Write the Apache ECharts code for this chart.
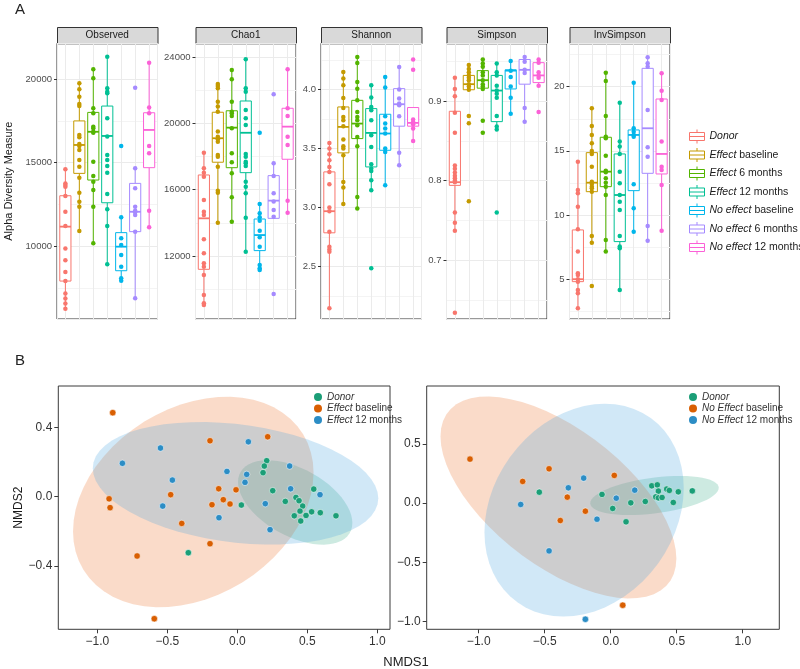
<!DOCTYPE html>
<html>
<head>
<meta charset="utf-8">
<title>Alpha diversity and NMDS</title>
<script src="https://cdn.jsdelivr.net/npm/echarts/dist/echarts.min.js"></script>
<style>
  html, body { margin: 0; padding: 0; background: #fff; }
  #chart { width: 800px; height: 669px; }
</style>
</head>
<body>
<div id="chart"></div>
<script>
// ---- panel A data ----
var groups = ['Donor', 'Effect baseline', 'Effect 6 months', 'Effect 12 months',
  'No effect baseline', 'No effect 6 months', 'No effect 12 months'];
var facetNames = ['Observed', 'Chao1', 'Shannon', 'Simpson', 'InvSimpson'];

// points, one list per group
var observedPts = [
  [14600, 13750, 13650, 13550, 13000, 12050, 11200, 9850, 9150, 8450, 7900, 7150, 6850, 6550, 6250],
  [19740, 19380, 18940, 18500, 18380, 16650, 16510, 16110, 15990, 15750, 15150, 14750, 14090, 13190, 12650, 12350, 10900],
  [20580, 20040, 18250, 17950, 17140, 17050, 16840, 16780, 15050, 14190, 13850, 13350, 12350, 10160],
  [21340, 19440, 19240, 19140, 17650, 16550, 15450, 15150, 14790, 14390, 13110, 12200, 11200, 8900],
  [15990, 11720, 10460, 10060, 9460, 8760, 8070, 7920],
  [19480, 14650, 13460, 12350, 12110, 12020, 11860, 10860, 6870],
  [20980, 18300, 17950, 15990, 15550, 12110, 11120]
];
// [lower whisker, Q1, median, Q3, upper whisker]
var observedBox = [
  [6250, 7900, 11160, 13010, 14600],
  [10900, 14350, 16050, 17490, 19740],
  [10160, 13950, 16840, 18000, 20580],
  [8900, 12590, 16590, 18380, 21340],
  [7920, 8520, 9960, 10800, 11720],
  [6870, 10860, 12050, 13750, 14650],
  [11120, 14690, 16950, 17980, 20980]
];

var chao1Pts = [
  [18240, 17290, 17030, 16790, 15380, 14670, 14470, 13000, 12160, 11550, 11350, 10850, 9640, 9140, 9030],
  [22390, 22270, 22130, 21320, 21020, 20710, 19510, 19200, 19050, 18900, 18100, 17990, 17390, 15940, 15820, 14010],
  [23230, 22670, 21320, 20710, 20620, 20450, 19710, 18200, 17660, 16990, 15540, 14070],
  [23880, 22130, 21920, 20820, 20320, 19910, 18160, 17990, 17690, 17600, 17430, 16480, 16180, 15780, 14310, 12250],
  [19440, 15140, 14570, 14330, 14130, 13520, 13120, 12560, 11450, 11250, 11150],
  [21770, 17600, 16830, 15780, 15280, 14770, 14370, 9700],
  [23280, 20920, 20450, 19200, 18700, 15340, 14610]
];
var chao1Box = [
  [9030, 11190, 14270, 16890, 18240],
  [14010, 17660, 19110, 20680, 22390],
  [14070, 17330, 19750, 20770, 23230],
  [12250, 17030, 19440, 21360, 23880],
  [11150, 12320, 13260, 14230, 15140],
  [14270, 14270, 15340, 16850, 17600],
  [14610, 17840, 19810, 20920, 23280]
];

var shannonPts = [
  [3.548, 3.501, 3.453, 3.402, 3.345, 3.303, 3.199, 3.002, 2.970, 2.795, 2.668, 2.646, 2.626, 2.147],
  [4.149, 4.093, 4.036, 3.929, 3.844, 3.768, 3.740, 3.690, 3.577, 3.520, 3.501, 3.444, 3.218, 3.171, 3.030],
  [4.276, 4.225, 4.064, 4.008, 3.909, 3.810, 3.768, 3.740, 3.698, 3.599, 3.520, 3.091, 2.993],
  [4.036, 3.932, 3.853, 3.825, 3.740, 3.613, 3.514, 3.368, 3.332, 3.311, 3.233, 3.148, 2.486],
  [4.107, 4.017, 3.774, 3.712, 3.670, 3.628, 3.501, 3.472, 3.190],
  [4.191, 4.000, 3.924, 3.882, 3.867, 3.774, 3.464, 3.360],
  [4.254, 4.169, 3.746, 3.726, 3.706, 3.670, 3.565]
];
var shannonBox = [
  [2.147, 2.787, 2.970, 3.303, 3.548],
  [3.030, 3.464, 3.684, 3.853, 4.149],
  [2.993, 3.585, 3.712, 3.909, 4.276],
  [3.148, 3.345, 3.633, 3.839, 4.036],
  [3.190, 3.486, 3.628, 3.791, 4.107],
  [3.360, 3.690, 3.876, 4.008, 4.191],
  [3.565, 3.690, 3.718, 3.848, 3.848]
];

var simpsonPts = [
  [0.929, 0.915, 0.906, 0.885, 0.860, 0.819, 0.815, 0.810, 0.806, 0.803, 0.800, 0.798, 0.760, 0.747, 0.737, 0.634],
  [0.945, 0.940, 0.936, 0.932, 0.929, 0.926, 0.921, 0.918, 0.914, 0.881, 0.872, 0.774],
  [0.952, 0.947, 0.943, 0.936, 0.932, 0.926, 0.921, 0.918, 0.915, 0.875, 0.860],
  [0.947, 0.936, 0.932, 0.919, 0.913, 0.909, 0.904, 0.881, 0.868, 0.864, 0.760],
  [0.950, 0.938, 0.930, 0.918, 0.904, 0.884],
  [0.955, 0.949, 0.939, 0.935, 0.891, 0.874],
  [0.952, 0.948, 0.936, 0.932, 0.929, 0.919, 0.886]
];
var simpsonBox = [
  [0.737, 0.794, 0.798, 0.887, 0.929],
  [0.912, 0.914, 0.921, 0.932, 0.945],
  [0.915, 0.916, 0.926, 0.938, 0.952],
  [0.864, 0.874, 0.913, 0.932, 0.947],
  [0.884, 0.915, 0.938, 0.939, 0.950],
  [0.874, 0.921, 0.939, 0.952, 0.955],
  [0.919, 0.923, 0.932, 0.948, 0.952]
];

var invSimpsonPts = [
  [14.16, 11.95, 11.70, 10.65, 8.89, 7.15, 5.46, 5.33, 5.00, 4.81, 4.16, 3.91, 2.74],
  [18.32, 16.94, 16.24, 15.59, 14.99, 14.76, 13.77, 12.60, 12.42, 12.21, 12.08, 11.82, 8.37, 7.85, 4.47],
  [21.09, 20.44, 17.72, 16.10, 15.98, 14.62, 13.46, 13.33, 12.86, 12.52, 12.21, 11.56, 8.06, 7.15],
  [18.75, 15.72, 15.33, 14.76, 13.38, 12.47, 11.56, 11.04, 10.39, 8.37, 7.54, 7.41, 4.16],
  [20.31, 16.76, 16.49, 16.24, 16.10, 12.40, 10.53, 8.70],
  [22.29, 21.82, 21.56, 18.18, 15.28, 14.55, 9.15, 8.00],
  [21.04, 19.69, 18.96, 15.72, 13.77, 13.51, 12.34, 8.78]
];
var invSimpsonBox = [
  [2.74, 4.81, 5.00, 8.84, 14.16],
  [7.85, 11.82, 12.52, 14.86, 18.32],
  [7.15, 12.21, 13.38, 16.06, 21.09],
  [4.16, 7.93, 11.56, 14.76, 18.75],
  [8.70, 11.90, 16.24, 16.63, 20.31],
  [8.00, 13.25, 16.76, 21.43, 22.29],
  [8.78, 13.20, 14.76, 19.04, 21.04]
];

// y axis extents, tick steps and label decimals of each facet
var facetMin = [5629, 8188, 2.057, 0.6263, 1.90];
var facetMax = [22138, 24846, 4.392, 0.9723, 23.38];
var facetStep = [5000, 4000, 0.5, 0.1, 5];
var facetDecimals = [0, 0, 1, 1, 0];

// ---- panel B data (NMDS1, NMDS2) ----
var leftDonor = [[0.210, 0.208], [0.193, 0.177], [0.184, 0.139], [0.253, 0.035], [0.029, -0.048],
  [0.343, -0.027], [0.419, -0.004], [0.441, -0.023], [0.467, -0.054], [0.546, 0.044],
  [0.593, -0.092], [0.531, -0.087], [0.491, -0.108], [0.448, -0.083], [0.407, -0.110],
  [0.453, -0.140], [0.705, -0.110], [-0.350, -0.323]];
var leftEffectBaseline = [[-0.890, 0.485], [-0.195, 0.323], [0.217, 0.346], [-0.916, -0.012],
  [-0.909, -0.063], [-0.476, 0.012], [-0.133, 0.046], [-0.009, 0.040], [-0.100, -0.017],
  [-0.181, -0.046], [-0.052, -0.042], [-0.397, -0.154], [-0.195, -0.271], [-0.716, -0.342],
  [-0.593, -0.704]];
var leftEffect12 = [[-0.549, 0.281], [0.079, 0.317], [-0.821, 0.193], [-0.074, 0.146],
  [0.067, 0.129], [0.374, 0.177], [-0.464, 0.096], [0.055, 0.083], [0.381, 0.046],
  [0.591, 0.012], [-0.533, -0.054], [0.200, -0.040], [-0.131, -0.121], [0.234, -0.190]];

var rightDonor = [[-0.541, 0.093], [-0.066, 0.074], [0.015, -0.045], [0.152, 0.003], [0.262, 0.014],
  [0.116, -0.158], [0.311, 0.147], [0.353, 0.155], [0.361, 0.102], [0.341, 0.053],
  [0.361, 0.045], [0.389, 0.048], [0.424, 0.119], [0.444, 0.108], [0.512, 0.096],
  [0.474, 0.006], [0.618, 0.104]];
var rightNoEffectBaseline = [[-1.066, 0.373], [-0.467, 0.291], [-0.667, 0.184], [0.027, 0.235],
  [-0.329, 0.051], [-0.192, -0.068], [-0.382, -0.147], [0.091, -0.864]];
var rightNoEffect12 = [[-0.682, -0.011], [-0.205, 0.212], [-0.321, 0.130], [0.042, 0.042],
  [0.182, 0.110], [-0.104, -0.136], [-0.467, -0.404], [-0.192, -0.983]];

// ---- styles ----
var groupColors = ['#F8766D', '#C49A00', '#53B400', '#00C094', '#00B6EB', '#A58AFF', '#FB61D7'];
var bGreen = '#1B9E77', bOrange = '#D95F02', bBlue = '#2C8DC5';
var bFill = ['rgba(27,158,119,0.22)', 'rgba(235,110,40,0.25)', 'rgba(70,165,225,0.25)'];

var facetPts = [observedPts, chao1Pts, shannonPts, simpsonPts, invSimpsonPts];
var facetBox = [observedBox, chao1Box, shannonBox, simpsonBox, invSimpsonBox];
var facetLeft = [57, 195.5, 321, 446.5, 569.5];
var facetWidth = 100.5;
var facetTop = 43.3;
var facetHeight = 275.7;

// robust (t) ellipse as in ggplot2::stat_ellipse (MASS::cov.trob, level 0.95)
function trobEllipse(pts, level) {
  var n = pts.length, nu = 5, p = 2;
  var loc = [0, 0];
  pts.forEach(function (q) { loc[0] += q[0] / n; loc[1] += q[1] / n; });
  var w = pts.map(function () { return 1; });
  var X;
  for (var iter = 0; iter < 25; iter++) {
    var w0 = w.slice();
    X = pts.map(function (q) { return [q[0] - loc[0], q[1] - loc[1]]; });
    var sw = 0, sxx = 0, sxy = 0, syy = 0;
    X.forEach(function (d, i) {
      sw += w[i]; sxx += w[i] * d[0] * d[0]; sxy += w[i] * d[0] * d[1]; syy += w[i] * d[1] * d[1];
    });
    sxx /= sw; sxy /= sw; syy /= sw;
    var det = sxx * syy - sxy * sxy;
    w = X.map(function (d) {
      var Q = (syy * d[0] * d[0] - 2 * sxy * d[0] * d[1] + sxx * d[1] * d[1]) / det;
      return (nu + p) / (nu + Q);
    });
    var tw = 0, lx = 0, ly = 0;
    pts.forEach(function (q, i) { tw += w[i]; lx += w[i] * q[0]; ly += w[i] * q[1]; });
    loc = [lx / tw, ly / tw];
    var done = w.every(function (v, i) { return Math.abs(v - w0[i]) < 0.01; });
    if (done) break;
  }
  var a = 0, b = 0, c = 0;
  X.forEach(function (d, i) { a += w[i] * d[0] * d[0]; b += w[i] * d[0] * d[1]; c += w[i] * d[1] * d[1]; });
  a /= n; b /= n; c /= n;
  var r11 = Math.sqrt(a), r12 = b / r11, r22 = Math.sqrt(c - r12 * r12);
  var dfd = n - 1;
  var fq = dfd / 2 * (Math.pow(1 - level, -2 / dfd) - 1); // qf(level, 2, dfd)
  var radius = Math.sqrt(2 * fq);
  var out = [];
  for (var k = 0; k <= 60; k++) {
    var t = k * 2 * Math.PI / 60;
    var ct = Math.cos(t), st = Math.sin(t);
    out.push([loc[0] + radius * ct * r11, loc[1] + radius * (ct * r12 + st * r22)]);
  }
  return out;
}

function legendFmt(name) {
  var m = name.match(/^(Donor|Effect|No effect|No Effect)(.*)$/);
  if (!m) return name;
  return '{i|' + m[1] + '}' + m[2];
}

function minusFmt(v) { return v.toFixed(1).replace('-', '\u2212'); }

var chart = echarts.init(document.getElementById('chart'));

var grids = [], xAxes = [], yAxes = [], series = [], graphics = [];

facetNames.forEach(function (fname, f) {
  grids.push({
    left: facetLeft[f], top: facetTop, width: facetWidth, height: facetHeight,
    show: true, backgroundColor: '#fff', borderColor: '#333', borderWidth: 1,
    outerBoundsMode: 'none'
  });
  xAxes.push({
    type: 'value', gridIndex: f, min: 0.4, max: 7.6, minInterval: 1, maxInterval: 1,
    axisLine: { show: false, onZero: false }, axisTick: { show: false }, axisLabel: { show: false },
    splitLine: { show: true, lineStyle: { color: '#EBEBEB', width: 1 } }
  });
  yAxes.push({
    type: 'value', gridIndex: f, min: facetMin[f], max: facetMax[f],
    minInterval: facetStep[f], maxInterval: facetStep[f],
    name: f === 0 ? 'Alpha Diversity Measure' : '',
    nameLocation: 'middle', nameGap: 43,
    nameTextStyle: { fontSize: 11, color: '#1a1a1a', fontFamily: 'Liberation Sans' },
    axisLine: { show: false, onZero: false },
    axisTick: { show: true, length: 3, lineStyle: { color: '#333' } },
    axisLabel: { fontSize: 9.5, color: '#4D4D4D', margin: 5, showMinLabel: false, showMaxLabel: false,
      fontFamily: 'Liberation Sans',
      formatter: function (v) { return v.toFixed(facetDecimals[f]); } },
    splitLine: { show: true, lineStyle: { color: '#EBEBEB', width: 1 } },
    minorTick: { show: false, splitNumber: 2 },
    minorSplitLine: { show: true, lineStyle: { color: '#F4F4F4', width: 1 } }
  });

  // box + whiskers
  series.push({
    type: 'custom', name: fname + ' box', xAxisIndex: f, yAxisIndex: f, z: 2, silent: true,
    data: facetBox[f].map(function (bx, g) { return [g + 1].concat(bx); }),
    encode: { x: 0, y: [1, 2, 3, 4, 5] },
    renderItem: function (params, api) {
      var g = api.value(0);
      var col = groupColors[g - 1];
      var lo = api.coord([g, api.value(1)]);
      var q1 = api.coord([g, api.value(2)]);
      var md = api.coord([g, api.value(3)]);
      var q3 = api.coord([g, api.value(4)]);
      var hi = api.coord([g, api.value(5)]);
      var half = api.size([0.8, 0])[0] / 2;
      var ls = { stroke: col, lineWidth: 1 };
      return {
        type: 'group',
        children: [
          { type: 'line', shape: { x1: lo[0], y1: lo[1], x2: q1[0], y2: q1[1] }, style: ls },
          { type: 'line', shape: { x1: q3[0], y1: q3[1], x2: hi[0], y2: hi[1] }, style: ls },
          { type: 'rect', shape: { x: q3[0] - half, y: q3[1], width: half * 2, height: q1[1] - q3[1] },
            style: { fill: '#fff', stroke: col, lineWidth: 1 } },
          { type: 'line', shape: { x1: md[0] - half, y1: md[1], x2: md[0] + half, y2: md[1] },
            style: { stroke: col, lineWidth: 1.8 } }
        ]
      };
    }
  });

  // points
  facetPts[f].forEach(function (vals, g) {
    series.push({
      type: 'scatter', name: groups[g], xAxisIndex: f, yAxisIndex: f, z: 3,
      symbolSize: 4.5, itemStyle: { color: groupColors[g], opacity: 1 },
      data: vals.map(function (v) { return [g + 1, v]; })
    });
  });

  // facet strip
  graphics.push({
    type: 'rect', left: facetLeft[f], top: 27, silent: true,
    shape: { width: facetWidth, height: 16.3 },
    style: { fill: '#D9D9D9', stroke: '#333', lineWidth: 1 }
  });
  graphics.push({
    type: 'text', x: facetLeft[f] + facetWidth / 2, y: 35.5, silent: true,
    style: { text: fname, align: 'center', verticalAlign: 'middle', fontSize: 10,
      fill: '#1a1a1a', fontFamily: 'Liberation Sans' }
  });
});

// ---- panel B ----
var bPanels = [
  { left: 58.3, width: 331.7, xmin: -1.279, xmax: 1.091, ymin: -0.765, ymax: 0.639, ystep: 0.4,
    sets: [leftDonor, leftEffectBaseline, leftEffect12],
    names: ['Donor', 'Effect baseline', 'Effect 12 months'], legendLeft: 309 },
  { left: 426.7, width: 352.6, xmin: -1.394, xmax: 1.277, ymin: -1.068, ymax: 0.992, ystep: 0.5,
    sets: [rightDonor, rightNoEffectBaseline, rightNoEffect12],
    names: ['Donor', 'No Effect baseline', 'No Effect 12 months'], legendLeft: 684 }
];
var bColors = [bGreen, bOrange, bBlue];
var legends = [{
  data: groups.map(function (nm, g) {
    return { name: nm, itemStyle: { color: '#fff', borderColor: groupColors[g], borderWidth: 1 } };
  }),
  orient: 'vertical', left: 689, top: 129, padding: 0,
  itemWidth: 15, itemHeight: 14, itemGap: 3.5,
  icon: 'path://M0,3L15,3L15,11L0,11Z M7.5,0L7.5,3 M7.5,11L7.5,14 M0,7L15,7',
  textStyle: { fontSize: 10.5, lineHeight: 13, color: '#1a1a1a', fontFamily: 'Liberation Sans',
    rich: { i: { fontStyle: 'italic', fontSize: 10.5, lineHeight: 13, color: '#1a1a1a',
      fontFamily: 'Liberation Sans' } } },
  formatter: legendFmt
}];

bPanels.forEach(function (bp, k) {
  var gi = 5 + k;
  grids.push({
    left: bp.left, top: 386, width: bp.width, height: 243.3,
    show: true, backgroundColor: '#fff', borderColor: '#3a3a3a', borderWidth: 1,
    outerBoundsMode: 'none'
  });
  xAxes.push({
    type: 'value', gridIndex: gi, min: bp.xmin, max: bp.xmax, minInterval: 0.5, maxInterval: 0.5,
    axisLine: { show: false, onZero: false },
    axisTick: { show: true, length: 4, lineStyle: { color: '#3a3a3a' } },
    axisLabel: { fontSize: 12, color: '#333', margin: 6, showMinLabel: false, showMaxLabel: false,
      fontFamily: 'Liberation Sans', formatter: minusFmt },
    splitLine: { show: false }
  });
  yAxes.push({
    type: 'value', gridIndex: gi, min: bp.ymin, max: bp.ymax,
    minInterval: bp.ystep, maxInterval: bp.ystep,
    name: k === 0 ? 'NMDS2' : '', nameLocation: 'middle', nameGap: 24,
    nameTextStyle: { fontSize: 12, color: '#1a1a1a', fontFamily: 'Liberation Sans' },
    axisLine: { show: false, onZero: false },
    axisTick: { show: true, length: 4, lineStyle: { color: '#3a3a3a' } },
    axisLabel: { fontSize: 12, color: '#333', margin: 6, showMinLabel: false, showMaxLabel: false,
      fontFamily: 'Liberation Sans', formatter: minusFmt },
    splitLine: { show: false }
  });

  // ellipses first, then points
  bp.sets.forEach(function (pts, j) {
    var ell = trobEllipse(pts, 0.95);
    series.push({
      type: 'custom', name: bp.names[j] + ' ellipse', xAxisIndex: gi, yAxisIndex: gi, z: 1, silent: true,
      data: [[0, 0]],
      renderItem: function (params, api) {
        return {
          type: 'polygon',
          shape: { points: ell.map(function (p) { return api.coord(p); }) },
          style: { fill: bFill[j], stroke: 'none' }
        };
      }
    });
  });
  bp.sets.forEach(function (pts, j) {
    series.push({
      type: 'scatter', name: bp.names[j], xAxisIndex: gi, yAxisIndex: gi, z: 3,
      symbolSize: 6.5,
      itemStyle: { color: bColors[j], borderColor: 'rgba(255,255,255,0.55)', borderWidth: 1, opacity: 1 },
      data: pts
    });
  });

  legends.push({
    data: bp.names.map(function (nm, j) {
      return { name: nm, icon: 'circle', itemStyle: { color: bColors[j], borderWidth: 0 } };
    }),
    orient: 'vertical', left: bp.legendLeft, top: 387,
    itemWidth: 8, itemHeight: 8, itemGap: 1.5,
    textStyle: { fontSize: 10, lineHeight: 9, color: '#333', fontFamily: 'Liberation Sans',
      rich: { i: { fontStyle: 'italic', fontSize: 10, lineHeight: 9, color: '#333', fontFamily: 'Liberation Sans' } } },
    formatter: legendFmt
  });
});

// panel letters and shared x title
graphics.push({ type: 'text', x: 15, y: 2, silent: true,
  style: { text: 'A', fontSize: 15, fill: '#222', fontFamily: 'Liberation Sans' } });
graphics.push({ type: 'text', x: 15, y: 353, silent: true,
  style: { text: 'B', fontSize: 15, fill: '#222', fontFamily: 'Liberation Sans' } });
graphics.push({ type: 'text', x: 406, y: 662, silent: true,
  style: { text: 'NMDS1', align: 'center', verticalAlign: 'middle', fontSize: 13, fill: '#222',
    fontFamily: 'Liberation Sans' } });

chart.setOption({
  animation: false,
  backgroundColor: '#fff',
  grid: grids,
  xAxis: xAxes,
  yAxis: yAxes,
  legend: legends,
  graphic: graphics,
  series: series
});
</script>
</body>
</html>
